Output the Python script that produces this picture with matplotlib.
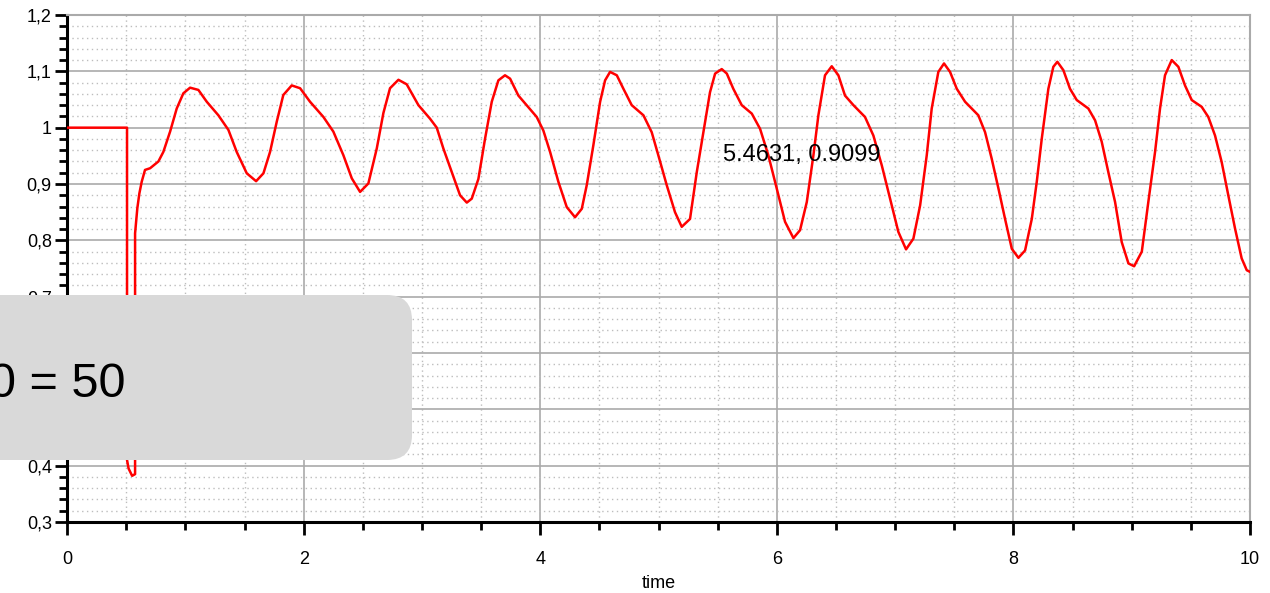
import matplotlib
matplotlib.use('Agg')
import matplotlib.pyplot as plt
from matplotlib.ticker import MultipleLocator, FuncFormatter
from matplotlib.patches import FancyBboxPatch

plt.rcParams['font.family'] = ['Liberation Sans', 'DejaVu Sans']

# Simulated response (time, value)
time = [0.0, 0.507, 0.507, 0.52, 0.55, 0.575, 0.575, 0.594, 0.611, 0.631, 0.659,
        0.702, 0.772, 0.814, 0.871, 0.927, 0.983, 1.040, 1.110, 1.181, 1.279,
        1.364, 1.434, 1.519, 1.598, 1.660, 1.716, 1.773, 1.828, 1.899, 1.970,
        2.054, 2.167, 2.251, 2.336, 2.407, 2.477, 2.547, 2.618, 2.674, 2.730,
        2.801, 2.871, 2.970, 3.068, 3.125, 3.181, 3.252, 3.322, 3.379, 3.421,
        3.477, 3.533, 3.590, 3.646, 3.702, 3.745, 3.815, 3.872, 3.970, 4.026,
        4.083, 4.153, 4.224, 4.294, 4.351, 4.393, 4.449, 4.506, 4.548, 4.590,
        4.647, 4.703, 4.773, 4.872, 4.942, 4.998, 5.069, 5.139, 5.196, 5.266,
        5.323, 5.379, 5.435, 5.478, 5.534, 5.577, 5.632, 5.703, 5.788, 5.858,
        5.928, 5.999, 6.069, 6.140, 6.196, 6.253, 6.309, 6.351, 6.407, 6.464,
        6.520, 6.576, 6.647, 6.745, 6.816, 6.887, 6.957, 7.027, 7.092, 7.154,
        7.211, 7.267, 7.309, 7.365, 7.413, 7.464, 7.521, 7.591, 7.633, 7.703,
        7.760, 7.816, 7.873, 7.929, 7.986, 8.042, 8.098, 8.155, 8.197, 8.239,
        8.295, 8.337, 8.371, 8.422, 8.478, 8.535, 8.633, 8.690, 8.746, 8.802,
        8.859, 8.915, 8.972, 9.020, 9.085, 9.140, 9.197, 9.239, 9.281, 9.338,
        9.394, 9.450, 9.507, 9.591, 9.647, 9.704, 9.760, 9.816, 9.873, 9.929,
        9.972, 10.0]
value = [1.0, 1.0, 0.41, 0.395, 0.382, 0.385, 0.8125, 0.857, 0.883, 0.904, 0.925,
         0.928, 0.940, 0.957, 0.993, 1.034, 1.061, 1.071, 1.067, 1.046, 1.022,
         0.996, 0.957, 0.919, 0.905, 0.919, 0.957, 1.011, 1.058, 1.075, 1.070,
         1.046, 1.019, 0.993, 0.951, 0.910, 0.886, 0.901, 0.963, 1.026, 1.070,
         1.085, 1.077, 1.040, 1.016, 1.000, 0.963, 0.921, 0.880, 0.867, 0.874,
         0.909, 0.980, 1.046, 1.084, 1.093, 1.087, 1.057, 1.043, 1.019, 0.995,
         0.957, 0.904, 0.859, 0.841, 0.856, 0.898, 0.969, 1.046, 1.084, 1.099,
         1.093, 1.069, 1.040, 1.022, 0.992, 0.951, 0.898, 0.850, 0.824, 0.838,
         0.921, 0.992, 1.063, 1.096, 1.104, 1.096, 1.069, 1.040, 1.025, 0.998,
         0.951, 0.892, 0.833, 0.804, 0.818, 0.868, 0.951, 1.022, 1.093, 1.109,
         1.093, 1.057, 1.040, 1.019, 0.986, 0.933, 0.874, 0.815, 0.784, 0.803,
         0.862, 0.951, 1.034, 1.099, 1.114, 1.099, 1.069, 1.046, 1.037, 1.022,
         0.992, 0.945, 0.892, 0.838, 0.785, 0.769, 0.782, 0.838, 0.904, 0.980,
         1.069, 1.108, 1.117, 1.102, 1.069, 1.049, 1.034, 1.013, 0.975, 0.921,
         0.868, 0.797, 0.759, 0.754, 0.780, 0.868, 0.957, 1.034, 1.093, 1.120,
         1.108, 1.075, 1.049, 1.037, 1.019, 0.986, 0.939, 0.880, 0.821, 0.768,
         0.747, 0.744]

# Cursor readout and overlay label
cursor_text = '5.4631, 0.9099'
overlay_text = '0 = 50'

fig = plt.figure(figsize=(12.7, 5.93), dpi=100)
ax = fig.add_axes([0.0528, 0.1197, 0.9315, 0.8550])

ax.plot(time, value, color='red', linewidth=1.8, zorder=3)

ax.set_xlim(0, 10)
ax.set_ylim(0.3, 1.2)
ax.xaxis.set_major_locator(MultipleLocator(2))
ax.xaxis.set_minor_locator(MultipleLocator(0.5))
ax.yaxis.set_major_locator(MultipleLocator(0.1))
ax.yaxis.set_minor_locator(MultipleLocator(0.02))

# comma as decimal separator
comma = FuncFormatter(lambda v, p: ('%g' % round(v, 6)).replace('.', ','))
ax.xaxis.set_major_formatter(comma)
ax.yaxis.set_major_formatter(comma)

ax.grid(which='major', color='#aaaaaa', linewidth=1.2, linestyle='-')
ax.grid(which='minor', color='#bdbdbd', linewidth=1.0, linestyle=(0, (1, 2.5)))
ax.set_axisbelow(True)

for side in ['left', 'bottom']:
    ax.spines[side].set_color('black')
    ax.spines[side].set_linewidth(2.2)
for side in ['top', 'right']:
    ax.spines[side].set_color('#aaaaaa')
    ax.spines[side].set_linewidth(1.5)

ax.tick_params(axis='both', which='major', length=9, width=2, labelsize=13,
               direction='out', top=False, right=False)
ax.tick_params(axis='both', which='minor', length=6, width=2,
               direction='out', top=False, right=False)
ax.tick_params(axis='y', which='major', pad=2)
ax.tick_params(axis='x', which='major', pad=12)

ax.set_xlabel('time', fontsize=13)
ax.xaxis.set_label_coords(0.5, -0.105)

ax.text(5.545, 0.952, cursor_text, fontsize=17, ha='left', va='center', zorder=4)

# grey rounded overlay box covering the lower left part
box = FancyBboxPatch((-0.5, 1.33), 4.62, 1.65, boxstyle='round,pad=0,rounding_size=0.25',
                     transform=fig.dpi_scale_trans, facecolor='#d9d9d9',
                     edgecolor='none', zorder=5)
fig.add_artist(box)
fig.text(-0.0087, 0.3305, overlay_text, fontsize=35, ha='left', va='baseline', zorder=6)

plt.savefig('out.png', dpi=100)
